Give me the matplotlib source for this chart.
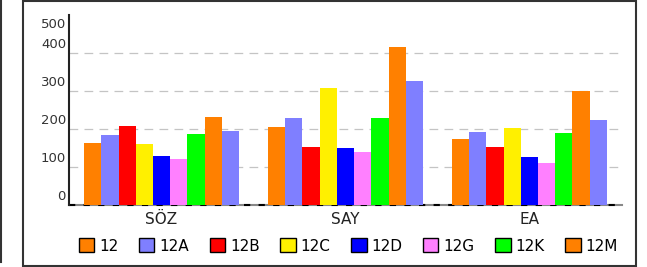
import numpy as np
import matplotlib
matplotlib.use("Agg")
import matplotlib.pyplot as plt
from matplotlib.patches import Rectangle, Patch
from matplotlib.lines import Line2D

# datos
kategoriler = ["SÖZ", "SAY", "EA"]
siniflar = ["12", "12A", "12B", "12C", "12D", "12G", "12K", "12M", ""]
renkler = ["#FF8000", "#7F7FFF", "#FF0000", "#FFF000", "#0000FF",
           "#FF80FF", "#00FF00", "#FF8000", "#7F7FFF"]

s12 = [163, 205, 174]
s12A = [184, 229, 192]
s12B = [208, 153, 153]
s12C = [160, 308, 203]
s12D = [129, 150, 126]
s12G = [121, 139, 111]
s12K = [187, 229, 189]
s12M = [232, 416, 300]
s12X = [195, 326, 224]
seriler = [s12, s12A, s12B, s12C, s12D, s12G, s12K, s12M, s12X]

yticks = [0, 100, 200, 300, 400, 500]

W, H = 647, 267
fig = plt.figure(figsize=(W / 100, H / 100), dpi=100)
ax = fig.add_axes([69 / W, 1 - 205 / H, (622 - 69) / W, (205 - 15) / H])

x = np.arange(len(kategoriler))
n = len(seriler)
ancho = 0.842 / n
for i, vals in enumerate(seriler):
    ax.bar(x - 0.421 + ancho * (i + 0.5), vals, width=ancho, color=renkler[i],
           linewidth=0, zorder=3)

ax.set_xlim(-0.503, 2.503)
ax.set_ylim(0, 500)

# grid
for t in yticks[1:-1]:
    ax.axhline(t, xmin=0, xmax=0.992, color="#c4c4c4", lw=0.9,
               dashes=(7, 5), zorder=1)

# baseline: gris + trazos negros
ax.axhline(0, color="#888888", lw=1.5, zorder=2, clip_on=False)
ax.axhline(0, color="black", lw=1.5, dashes=(3, 4), zorder=2.5, clip_on=False)

for s in ["top", "right", "bottom"]:
    ax.spines[s].set_visible(False)
ax.spines["left"].set_color("#222222")
ax.spines["left"].set_linewidth(1.5)

ax.set_yticks([])
for t in yticks:
    if t == yticks[-1]:
        ax.annotate(str(t), (0, t), xycoords=("axes fraction", "data"),
                    xytext=(-3, -3), textcoords="offset pixels",
                    ha="right", va="top", fontsize=9.5, color="#333333")
    else:
        ax.annotate(str(t), (0, t), xycoords=("axes fraction", "data"),
                    xytext=(-3, 2), textcoords="offset pixels",
                    ha="right", va="bottom", fontsize=9.5, color="#333333")

ax.set_xticks(x)
ax.set_xticklabels(kategoriler, fontsize=11, color="#222222")
ax.tick_params(axis="x", length=0, pad=5)

# leyenda
handles = [Patch(facecolor=renkler[i], edgecolor="black", linewidth=1,
                 label=siniflar[i]) for i in range(8)]
fig.legend(handles=handles, loc="center", bbox_to_anchor=(0.5387, 0.079),
           ncol=8, frameon=False, fontsize=11, handlelength=1.0,
           handleheight=1.05, handletextpad=0.33, columnspacing=1.35,
           borderpad=0, borderaxespad=0)

# marco exterior
fig.patches.append(Rectangle((23 / W, 1 / H), (636 - 23) / W, (266 - 1) / H,
                             transform=fig.transFigure, fill=False,
                             edgecolor="#333333", lw=1.5))
fig.lines.append(Line2D([1 / W, 1 / W], [1 - 262 / H, 1],
                        transform=fig.transFigure, color="#333333", lw=1.5))

fig.savefig("out.png", dpi=100)
